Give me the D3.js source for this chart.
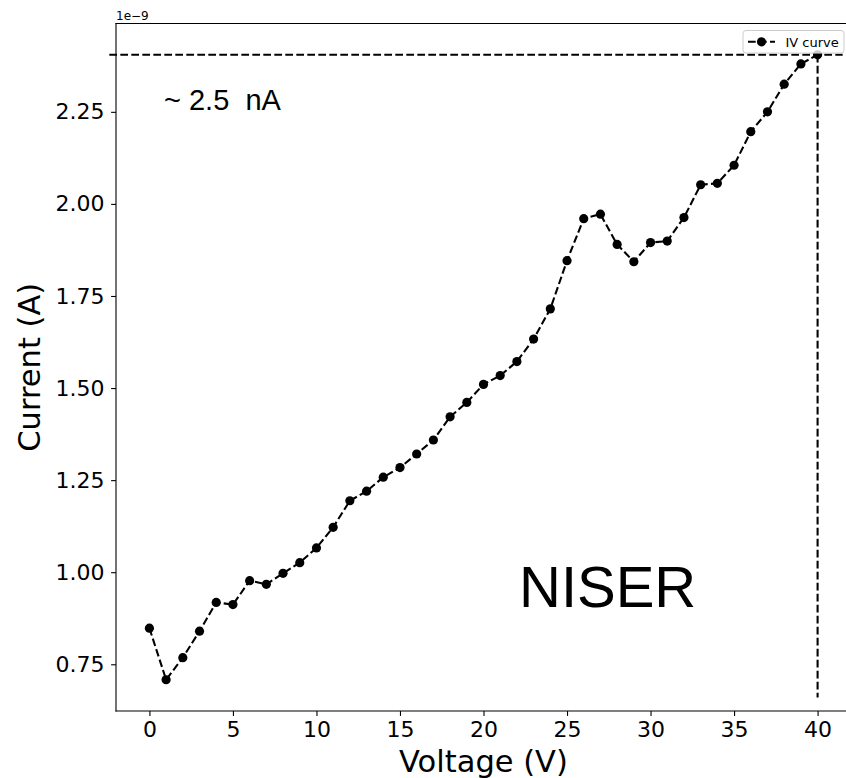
<!DOCTYPE html>
<html>
<head>
<meta charset="utf-8">
<script src="https://cdn.jsdelivr.net/npm/d3@7"></script>
<style>
  html, body { margin: 0; padding: 0; background: #fff; overflow: hidden; }
  svg { display: block; }
  .tick text { font-family: "DejaVu Sans", sans-serif; fill: #000; }
</style>
</head>
<body>
<div id="chart"></div>
<script>
// ---- data ----
const voltage = [0,1,2,3,4,5,6,7,8,9,10,11,12,13,14,15,16,17,18,19,20,
                 21,22,23,24,25,26,27,28,29,30,31,32,33,34,35,36,37,38,39,40];
const current = [0.848,0.708,0.768,0.840,0.918,0.912,0.977,0.967,0.997,1.026,1.066,
                 1.122,1.194,1.220,1.258,1.284,1.321,1.359,1.422,1.461,1.510,
                 1.534,1.572,1.633,1.715,1.846,1.960,1.972,1.890,1.843,1.895,
                 1.899,1.963,2.052,2.056,2.105,2.196,2.250,2.325,2.380,2.405];
const xTicks = [0,5,10,15,20,25,30,35,40];
const yTicks = [0.75,1.00,1.25,1.50,1.75,2.00,2.25];
const guideXSpan = [-2.4, 41.5];   // horizontal guide extent (V)
const guideYBottom = 0.66;         // vertical guide lower end (1e-9 A)
const seriesName = "IV curve";

// ---- layout ----
const W = 846, H = 778;
const plot = { left: 116, top: 23.5, width: 735, height: 687.5 };

const pad = (ext) => { const s = ext[1] - ext[0]; return [ext[0] - 0.05 * s, ext[1] + 0.05 * s]; };
const x = d3.scaleLinear().domain(pad(d3.extent(voltage)))
  .range([plot.left, plot.left + plot.width]);
const y = d3.scaleLinear().domain(pad(d3.extent(current)))
  .range([plot.top + plot.height, plot.top]);

const svg = d3.select("#chart").append("svg")
  .attr("width", W).attr("height", H);

const dash = "7.7,3.3";
const lw = 2.08;
const mr = 4.6;

// guides
const yMax = d3.max(current);
const xAtMax = voltage[current.indexOf(yMax)];
svg.append("line")
  .attr("x1", x(guideXSpan[0])).attr("x2", x(guideXSpan[1]))
  .attr("y1", y(yMax)).attr("y2", y(yMax))
  .attr("stroke", "#000").attr("stroke-width", lw).attr("stroke-dasharray", dash);
svg.append("line")
  .attr("x1", x(xAtMax)).attr("x2", x(xAtMax))
  .attr("y1", y(yMax)).attr("y2", y(guideYBottom))
  .attr("stroke", "#000").attr("stroke-width", lw).attr("stroke-dasharray", dash);

// series
const pts = voltage.map((v, i) => [v, current[i]]);
svg.append("path")
  .datum(pts)
  .attr("fill", "none").attr("stroke", "#000")
  .attr("stroke-width", lw).attr("stroke-dasharray", dash)
  .attr("d", d3.line().x(d => x(d[0])).y(d => y(d[1])));
svg.append("g").selectAll("circle").data(pts).join("circle")
  .attr("cx", d => x(d[0])).attr("cy", d => y(d[1])).attr("r", mr)
  .attr("fill", "#000");

// axes
const xAxis = svg.append("g")
  .attr("transform", `translate(0,${plot.top + plot.height})`)
  .call(d3.axisBottom(x).tickValues(xTicks).tickFormat(d3.format("d"))
        .tickSize(4.9).tickSizeOuter(0).tickPadding(5.6));
const yAxis = svg.append("g")
  .attr("transform", `translate(${plot.left},0)`)
  .call(d3.axisLeft(y).tickValues(yTicks).tickFormat(d3.format(".2f"))
        .tickSize(4.9).tickSizeOuter(0).tickPadding(6.6));
[xAxis, yAxis].forEach(g => {
  g.select(".domain").remove();
  g.selectAll(".tick line").attr("stroke", "#000").attr("stroke-width", 1.1);
  g.selectAll(".tick text").attr("font-size", 22).attr("font-family", "DejaVu Sans");
});

// spines (right spine lies outside the visible canvas)
const xL = plot.left, xR = plot.left + plot.width, yT = plot.top, yB = plot.top + plot.height;
const spines = [[xL, yT, xR, yT], [xL, yB, xR, yB], [xL, yT, xL, yB]];
svg.append("g").selectAll("line").data(spines).join("line")
  .attr("x1", d => d[0]).attr("y1", d => d[1]).attr("x2", d => d[2]).attr("y2", d => d[3])
  .attr("stroke", "#000").attr("stroke-width", 1.1).attr("stroke-linecap", "square");

// labels
svg.append("text")
  .attr("x", plot.left + plot.width / 2).attr("y", 771.5)
  .attr("text-anchor", "middle")
  .attr("font-family", "DejaVu Sans").attr("font-size", 30.5)
  .text("Voltage (V)");
svg.append("text")
  .attr("transform", `translate(40,${plot.top + plot.height / 2}) rotate(-90)`)
  .attr("text-anchor", "middle")
  .attr("font-family", "DejaVu Sans").attr("font-size", 30.5)
  .text("Current (A)");
svg.append("text")
  .attr("x", plot.left).attr("y", 19.5)
  .attr("font-family", "DejaVu Sans").attr("font-size", 12)
  .text("1e\u22129");

// annotations
svg.append("text")
  .attr("x", 164).attr("y", 110)
  .attr("font-family", "Liberation Sans, Arial, sans-serif").attr("font-size", 29)
  .attr("xml:space", "preserve").style("white-space", "pre")
  .text("~ 2.5  nA");
svg.append("text")
  .attr("x", 519).attr("y", 607)
  .attr("font-family", "Liberation Sans, Arial, sans-serif").attr("font-size", 58)
  .text("NISER");

// legend
const lgR = plot.left + plot.width - 7, lgT = plot.top + 7;
const lgW = 101, lgH = 22.6;
const lg = svg.append("g").attr("transform", `translate(${lgR - lgW},${lgT})`);
lg.append("rect").attr("width", lgW).attr("height", lgH).attr("rx", 3)
  .attr("fill", "#fff").attr("fill-opacity", 0.8)
  .attr("stroke", "#cccccc").attr("stroke-width", 1);
lg.append("line").attr("x1", 5).attr("x2", 32).attr("y1", 11.3).attr("y2", 11.3)
  .attr("stroke", "#000").attr("stroke-width", lw).attr("stroke-dasharray", dash);
lg.append("circle").attr("cx", 18.5).attr("cy", 11.3).attr("r", mr).attr("fill", "#000");
lg.append("text").attr("x", 42.5).attr("y", 16)
  .attr("font-family", "DejaVu Sans").attr("font-size", 13)
  .text(seriesName);
</script>
</body>
</html>
